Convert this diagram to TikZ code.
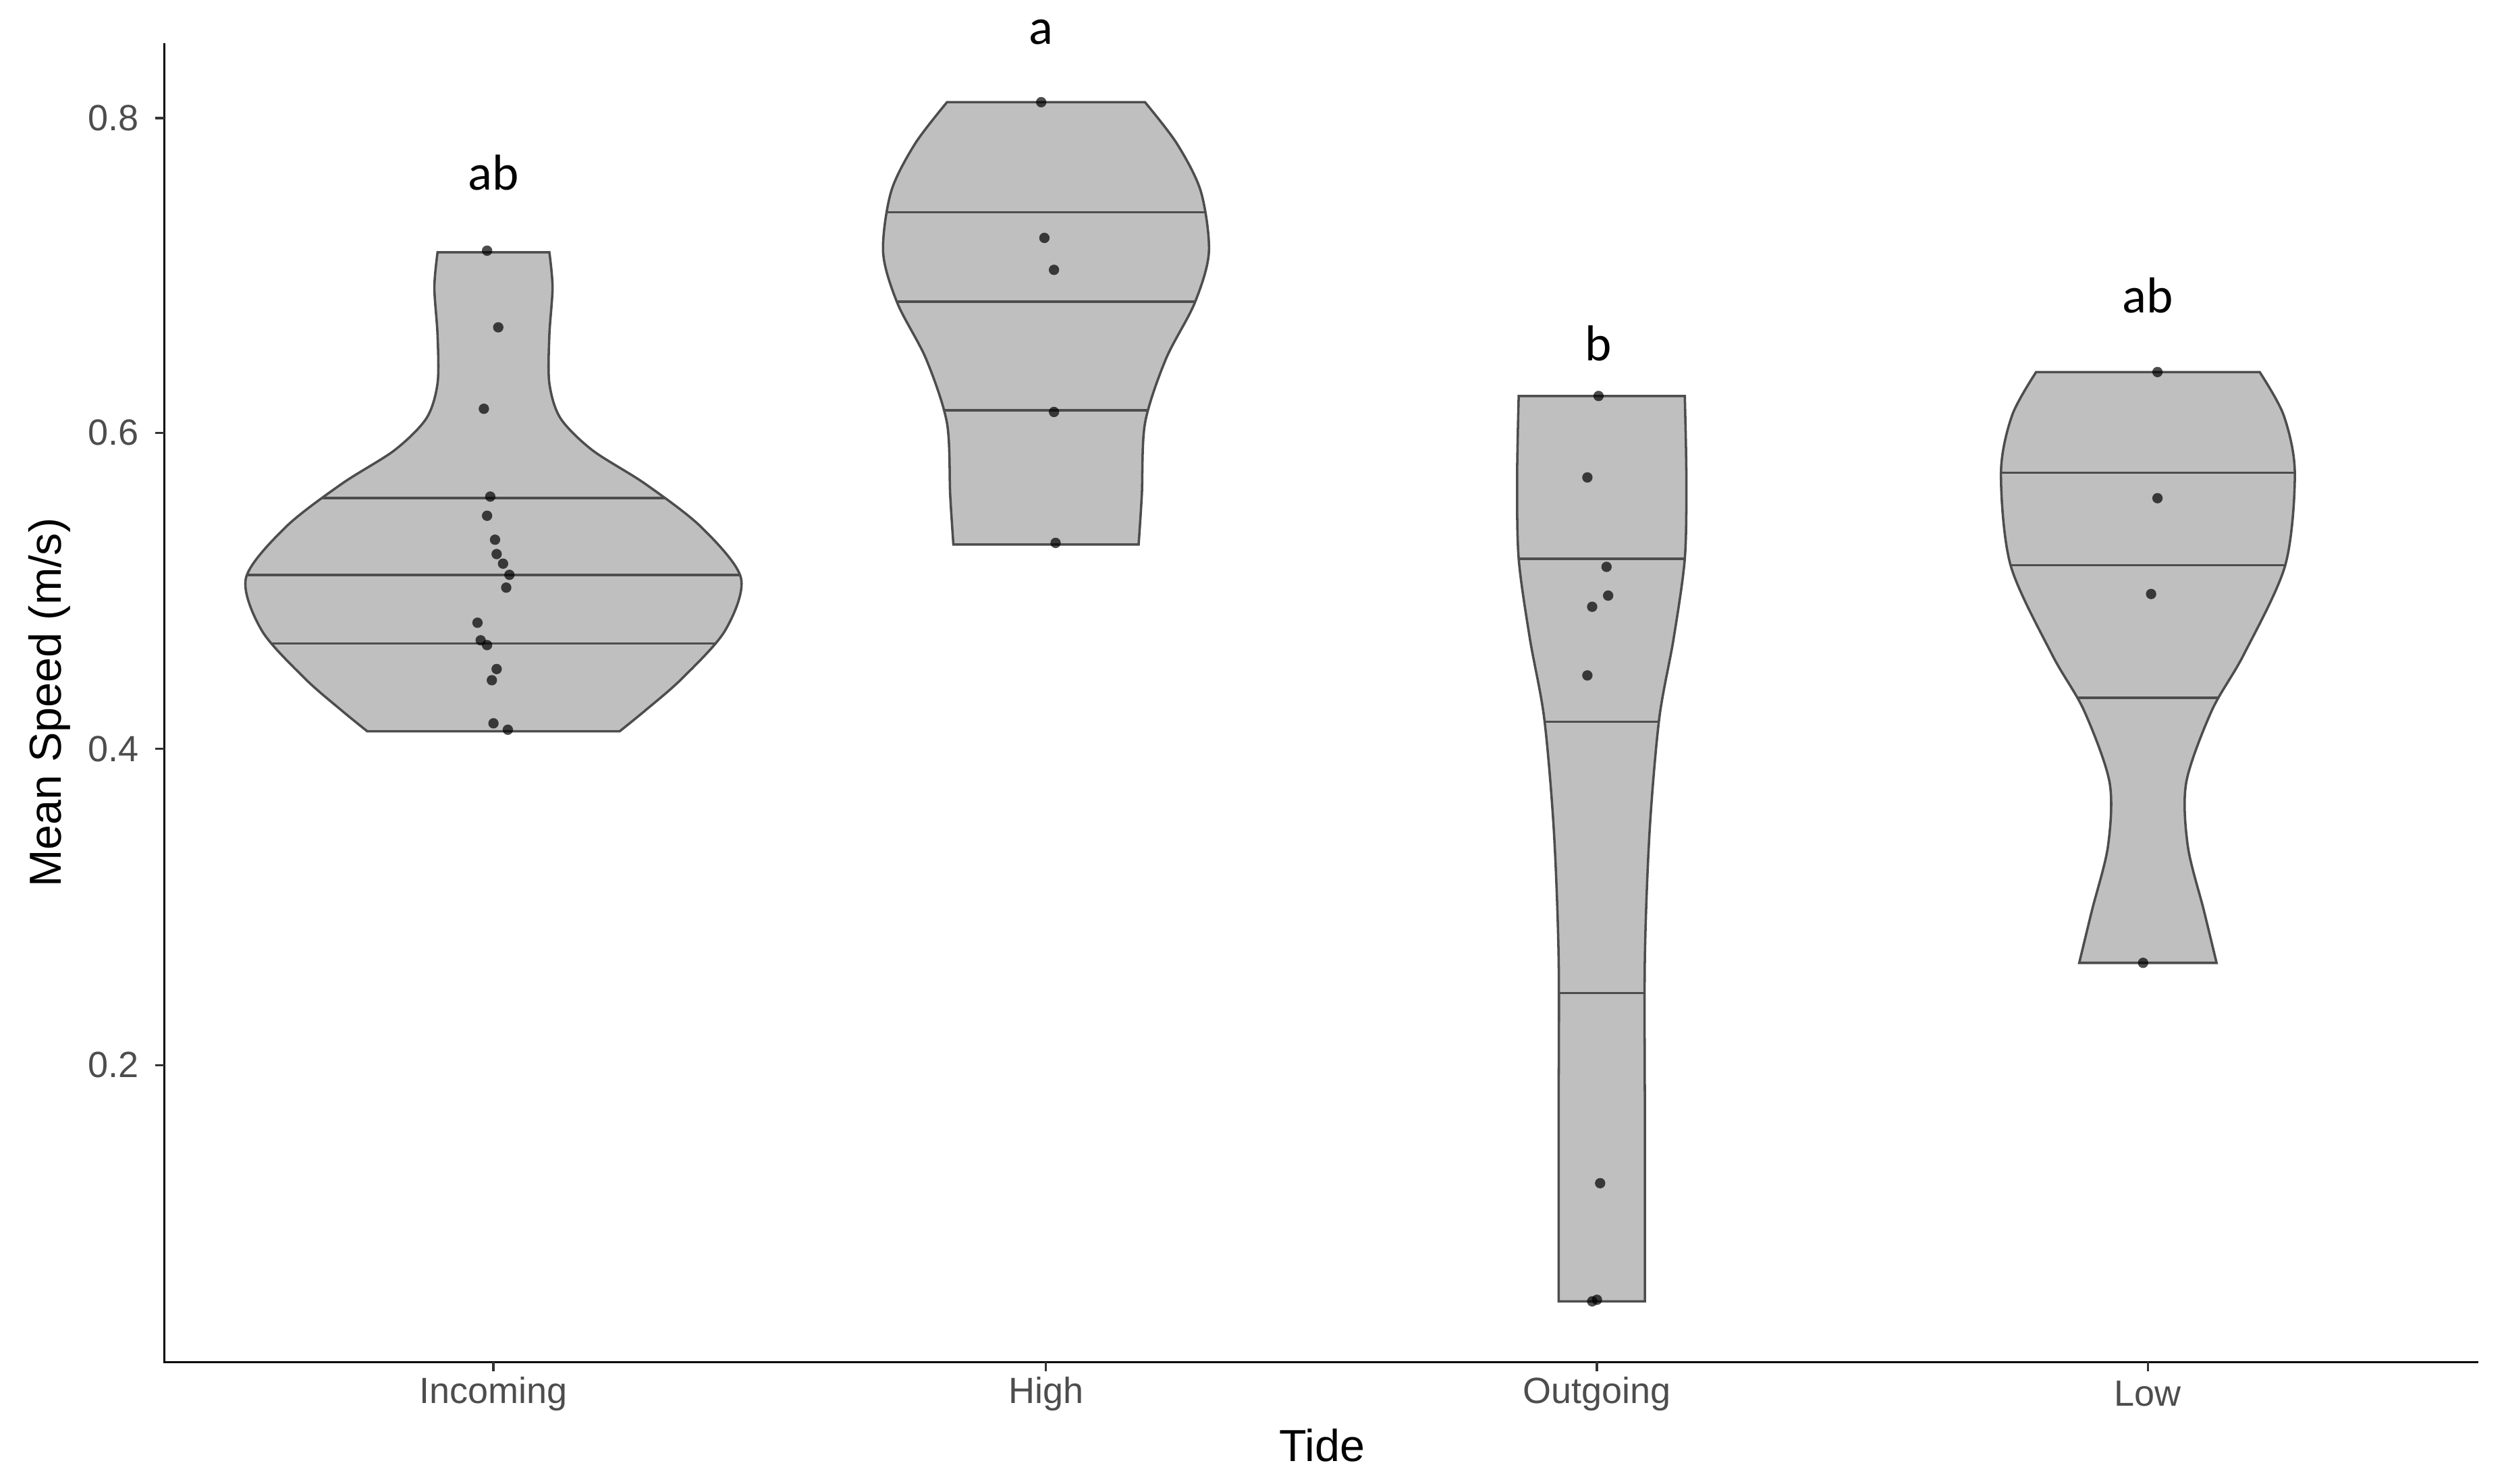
\documentclass[tikz,border=0pt]{standalone}
\usepackage{fontspec}
\setmainfont{Liberation Sans}
\newfontfamily\carlitofont{Carlito}
\begin{document}
\begin{tikzpicture}[x=0.02cm,y=-0.02cm,
  vfill/.style={fill={rgb,255:red,191;green,191;blue,191}},
  vline/.style={draw={rgb,255:red,77;green,77;blue,77},line width=0.85pt},
  dot/.style={circle,fill=black,fill opacity=0.7,inner sep=0pt,minimum size=0.13cm},
  tick/.style={text={rgb,255:red,77;green,77;blue,77},font=\fontsize{13}{15}\selectfont},
  letter/.style={font=\carlitofont\fontsize{18}{20}\selectfont}]
\useasboundingbox (0,0) rectangle (1568,929);
% violin paths
\def\pIn{(-35,158) -- (35,158) -- plot[smooth] coordinates{(35,158)(37,180)(35,210)(35,240)(42,262)(62,282)(95,303)(130,330)(155,362)(145,395)(118,425)(95,445)(79,458)} -- (-79,458) -- plot[smooth] coordinates{(-79,458)(-95,445)(-118,425)(-145,395)(-155,362)(-130,330)(-95,303)(-62,282)(-42,262)(-35,240)(-35,210)(-37,180)(-35,158)} -- cycle}
\def\pHi{(-62,64) -- (62,64) -- plot[smooth] coordinates{(62,64)(82,90)(97,120)(102,158)(93,190)(75,225)(62,265)(60,310)(58,341)} -- (-58,341) -- plot[smooth] coordinates{(-58,341)(-60,310)(-62,265)(-75,225)(-93,190)(-102,158)(-97,120)(-82,90)(-62,64)} -- cycle}
\def\pOut{(-52,248) -- (52,248) -- plot[smooth] coordinates{(52,248)(53,300)(52,350)(45,400)(36,450)(30,520)(27,600)(27,700)(27,815)} -- (-27,815) -- plot[smooth] coordinates{(-27,815)(-27,700)(-27,600)(-30,520)(-36,450)(-45,400)(-52,350)(-53,300)(-52,248)} -- cycle}
\def\pLo{(-70,233) -- (70,233) -- plot[smooth] coordinates{(70,233)(85,260)(92,296)(86,354)(60,410)(40,445)(24,490)(25,530)(35,570)(43,603)} -- (-43,603) -- plot[smooth] coordinates{(-43,603)(-35,570)(-25,530)(-24,490)(-40,445)(-60,410)(-86,354)(-92,296)(-85,260)(-70,233)} -- cycle}
\foreach \c/\p/\qa/\qb/\qc in {309/\pIn/312/360/403, 655/\pHi/133/189/257, 1003/\pOut/350/452/622, 1345/\pLo/296/354/437}{
  \begin{scope}[shift={(\c,0)}]
    \path[vfill] \p;
    \begin{scope}\clip \p;
      \foreach \q in {\qa,\qb,\qc}{\draw[vline] (-200,\q) -- (200,\q);}
    \end{scope}
    \path[vline] \p;
  \end{scope}}
% dots
\foreach \x/\y [count=\i] in {305/157,312/205,303/256,307/311,305/323,310/338,311/347,315/353,319/360,317/368,299/390,301/401,305/404,311/419,308/426,309/453,318/457,
 652/64,654/149,660/169,660/258,661/340,
 1001/248,994/299,1006/355,1007/373,997/380,994/423,1002/741,997/815,1000/814,
 1351/233,1351/312,1347/372,1342/603}
  \node[dot] (d\i) at (\x,\y) {};
% axes
\draw[line width=0.8pt] (103,27) -- (103,853) -- (1552,853);
\foreach \v/\y in {0.8/74,0.6/271,0.4/469,0.2/667}{
  \draw[line width=0.8pt,draw={rgb,255:red,51;green,51;blue,51}] (97,\y) -- (103,\y);
  \node[tick,anchor=east] (yt\v) at (93,\y) {\v};}
\foreach \x/\t in {309/Incoming,655/High,1000/Outgoing,1345/Low}{
  \draw[line width=0.8pt,draw={rgb,255:red,51;green,51;blue,51}] (\x,853) -- (\x,859);
  \node[tick] (xt\t) at (\x,873) {\t};}
\node[font=\fontsize{16}{18}\selectfont] (xl) at (828,905) {Tide};
\node[font=\fontsize{16}{18}\selectfont,rotate=90] (yl) at (31,440) {Mean Speed (m/s)};
% letters
\node[letter] (l1) at (309,108) {ab};
\node[letter] (l2) at (652,20) {a};
\node[letter] (l3) at (1001,215) {b};
\node[letter] (l4) at (1345,185) {ab};
\end{tikzpicture}
\end{document}
